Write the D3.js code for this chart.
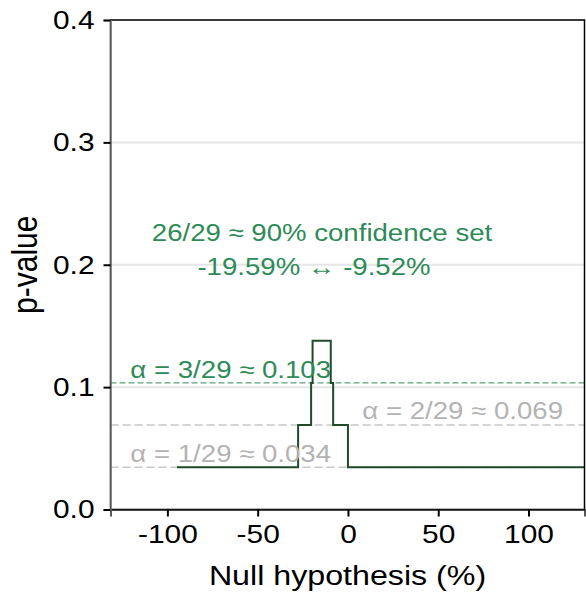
<!DOCTYPE html>
<html>
<head>
<meta charset="utf-8">
<script src="https://cdn.jsdelivr.net/npm/d3@7"></script>
<style>
  body { margin: 0; background: #fff; }
  svg { display: block; font-family: "Liberation Sans", Arial, sans-serif; }
</style>
</head>
<body>
<svg id="chart" width="586" height="599"></svg>
<script>
// step function of the p-value: each segment starts at breaks[i] with value pvals[i]
const breaks = [-94.7, -27.6, -20.4, -19.59, -9.52, -8.2, 0, 131];
const pvals = [1 / 29, 2 / 29, 3 / 29, 4 / 29, 3 / 29, 2 / 29, 1 / 29, 1 / 29];

const alphaLevels = [1 / 29, 2 / 29, 3 / 29];
const alphaLabels = ["α = 1/29 ≈ 0.034", "α = 2/29 ≈ 0.069", "α = 3/29 ≈ 0.103"];

const xTicks = [-100, -50, 0, 50, 100];
const yTicks = [0, 0.1, 0.2, 0.3, 0.4];

const confLines = ["26/29 ≈ 90% confidence set", "-19.59% ↔ -9.52%"];

const green = "#2e8b57";
const stepColor = "#1f4a2b";
const sx = 1.15; // text in the original is a bit wider than Liberation Sans

const margin = { top: 20, right: 1.5, bottom: 89.5, left: 110.5 };
const width = 586, height = 599;

const svg = d3.select("#chart");

const x = d3.scaleLinear().domain([-131.5, 131]).range([margin.left, width - margin.right]);
const y = d3.scaleLinear().domain([0, 0.4]).range([height - margin.bottom, margin.top]);

function widen(sel) {
    sel.each(function () {
        const t = d3.select(this);
        const x0 = +t.attr("x") || 0;
        t.attr("x", x0 / sx).attr("transform", `scale(${sx},1)`);
    });
}

// grid lines
svg.append("g")
    .selectAll("line")
    .data(yTicks)
    .join("line")
    .attr("x1", x.range()[0]).attr("x2", x.range()[1])
    .attr("y1", d => y(d)).attr("y2", d => y(d))
    .attr("stroke", "#e6e6e6")
    .attr("stroke-width", 2);

// alpha reference lines
svg.append("g")
    .selectAll("line")
    .data(alphaLevels)
    .join("line")
    .attr("x1", x.range()[0]).attr("x2", x.range()[1])
    .attr("y1", d => y(d)).attr("y2", d => y(d))
    .attr("stroke", (d, i) => i === 2 ? green : "#c8c8c8")
    .attr("stroke-width", (d, i) => i === 2 ? 1 : 1.5)
    .attr("stroke-dasharray", (d, i) => i === 2 ? "6,3" : "8,4");

// step line
const stepPts = breaks.map((b, i) => [b, pvals[i]]);
const line = d3.line()
    .x(d => x(d[0]))
    .y(d => y(d[1]))
    .curve(d3.curveStepAfter);

svg.append("path")
    .datum(stepPts)
    .attr("d", line)
    .attr("fill", "none")
    .attr("stroke", stepColor)
    .attr("stroke-width", 2);

// alpha labels
const labelPos = [
    { x: x(-120.5), anchor: "start", color: "#b3b3b3", dy: -5 },
    { x: 563, anchor: "end", color: "#b3b3b3", dy: -6 },
    { x: x(-120.5), anchor: "start", color: green, dy: -5 }
];
svg.append("g")
    .selectAll("text")
    .data(alphaLevels)
    .join("text")
    .attr("x", (d, i) => labelPos[i].x)
    .attr("y", (d, i) => y(d) + labelPos[i].dy)
    .attr("text-anchor", (d, i) => labelPos[i].anchor)
    .attr("fill", (d, i) => labelPos[i].color)
    .attr("font-size", 24)
    .text((d, i) => alphaLabels[i])
    .call(widen);

// confidence set annotation
svg.append("g")
    .selectAll("text")
    .data(confLines)
    .join("text")
    .attr("x", (d, i) => i === 0 ? 322 : 314)
    .attr("y", (d, i) => 241 + i * 34)
    .attr("text-anchor", "middle")
    .attr("fill", green)
    .attr("font-size", 24)
    .text(d => d)
    .call(widen);

// panel border
svg.append("rect")
    .attr("x", x.range()[0]).attr("y", y(0.4))
    .attr("width", x.range()[1] - x.range()[0])
    .attr("height", y(0) - y(0.4))
    .attr("fill", "none")
    .attr("stroke", "#000")
    .attr("stroke-width", 1.5);

// axes
const xAxis = svg.append("g")
    .attr("transform", `translate(0,${y(0)})`)
    .call(d3.axisBottom(x).tickValues(xTicks).tickSize(7).tickPadding(8).tickFormat(d => String(d)));
xAxis.select(".domain").attr("stroke", "#222").attr("stroke-width", 1.5);
xAxis.selectAll(".tick line").attr("stroke-width", 2);
xAxis.selectAll(".tick text").attr("font-size", 26).attr("fill", "#000")
    .style("font-family", "'Liberation Sans', Arial, sans-serif")
    .call(widen);

const yAxis = svg.append("g")
    .attr("transform", `translate(${x.range()[0]},0)`)
    .call(d3.axisLeft(y).tickValues(yTicks).tickSize(7).tickPadding(9).tickFormat(d3.format(".1f")));
yAxis.select(".domain").attr("stroke", "#777").attr("stroke-width", 1.5);
yAxis.selectAll(".tick line").attr("stroke-width", 2);
yAxis.selectAll(".tick text").attr("font-size", 26).attr("fill", "#000")
    .style("font-family", "'Liberation Sans', Arial, sans-serif")
    .call(widen);

// axis titles
svg.append("text")
    .attr("x", (x.range()[0] + x.range()[1]) / 2)
    .attr("y", 585)
    .attr("text-anchor", "middle")
    .attr("font-size", 28)
    .text("Null hypothesis (%)")
    .call(widen);

svg.append("text")
    .attr("transform", `translate(37,${(y(0) + y(0.4)) / 2}) scale(${sx},1) rotate(-90)`)
    .attr("text-anchor", "middle")
    .attr("font-size", 30)
    .text("p-value");
</script>
</body>
</html>
